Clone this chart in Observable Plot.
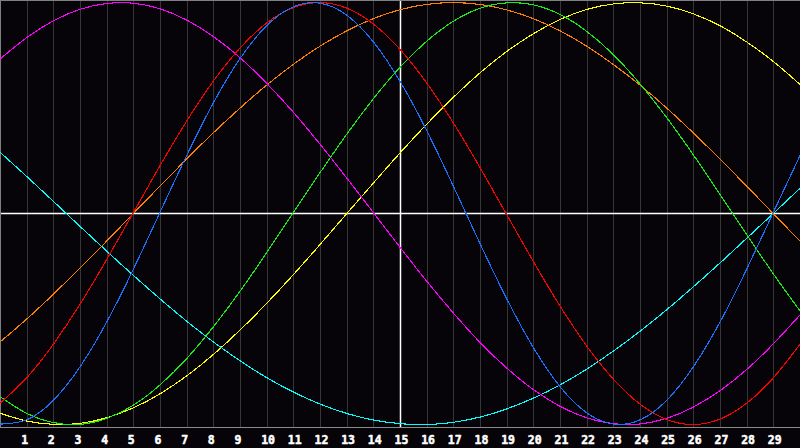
<!DOCTYPE html>
<html>
<head>
<meta charset="utf-8">
<script src="https://cdn.jsdelivr.net/npm/d3@7"></script>
<script src="https://cdn.jsdelivr.net/npm/@observablehq/plot@0.6"></script>
<style>
  html, body { margin: 0; padding: 0; background: #060408; }
  #chart { width: 800px; height: 448px; }
</style>
</head>
<body>
<div id="chart"></div>
<script>
const days = d3.range(0, 31);
const tickDays = d3.range(1, 30);
const tickLabels = tickDays.map(String);
const today = 15;

const aesthetic    = [-0.947,-0.984,-0.999,-0.994,-0.967,-0.920,-0.853,-0.768,-0.666,-0.550,-0.423,-0.287,-0.144,0.002,0.147,0.290,0.426,0.553,0.669,0.770,0.854,0.921,0.968,0.994,0.999,0.983,0.946,0.889,0.812,0.719,0.610];
const spiritual    = [0.289,0.174,0.056,-0.063,-0.180,-0.295,-0.406,-0.512,-0.610,-0.699,-0.779,-0.847,-0.904,-0.948,-0.979,-0.996,-1.000,-0.989,-0.964,-0.925,-0.874,-0.811,-0.736,-0.650,-0.556,-0.454,-0.345,-0.232,-0.115,0.003,0.122];
const awareness    = [-0.607,-0.498,-0.380,-0.256,-0.128,0.003,0.133,0.261,0.385,0.502,0.611,0.709,0.795,0.867,0.925,0.967,0.992,1.000,0.991,0.965,0.923,0.865,0.792,0.705,0.607,0.498,0.380,0.256,0.128,-0.003,-0.133];
const intuitive    = [0.734,0.836,0.915,0.969,0.996,0.997,0.970,0.916,0.838,0.737,0.615,0.478,0.326,0.166,0.002,-0.163,-0.323,-0.474,-0.613,-0.734,-0.836,-0.915,-0.969,-0.996,-0.997,-0.970,-0.916,-0.838,-0.737,-0.615,-0.478];
const intellectual = [-0.870,-0.948,-0.991,-0.999,-0.970,-0.907,-0.810,-0.685,-0.534,-0.365,-0.182,0.008,0.197,0.379,0.547,0.696,0.819,0.913,0.974,0.999,0.989,0.943,0.862,0.751,0.612,0.452,0.275,0.088,-0.103,-0.289,-0.465];
const emotional    = [-0.897,-0.776,-0.616,-0.426,-0.214,0.009,0.231,0.442,0.631,0.787,0.905,0.977,1.000,0.973,0.897,0.776,0.616,0.426,0.214,-0.009,-0.231,-0.442,-0.631,-0.787,-0.905,-0.977,-1.000,-0.973,-0.897,-0.776,-0.616];
const physical     = [-0.998,-0.977,-0.883,-0.723,-0.510,-0.259,0.011,0.280,0.529,0.738,0.893,0.981,0.997,0.939,0.811,0.623,0.389,0.125,-0.147,-0.408,-0.639,-0.823,-0.946,-0.998,-0.977,-0.883,-0.723,-0.510,-0.259,0.011,0.280];

const seriesNames  = ["Aesthetic","Spiritual","Awareness","Intuitive","Intellectual","Emotional","Physical"];
const seriesValues = [aesthetic, spiritual, awareness, intuitive, intellectual, emotional, physical];
const seriesColors = ["#ffff00","#00ffff","#ff8000","#ff00ff","#14f014","#ff0000","#1a70ff"];

const rows = seriesNames.flatMap((name, i) =>
  days.map((d, j) => ({series: name, day: d, value: seriesValues[i][j]})));

const yDomain = [-1.014, 1.01];

const chart = Plot.plot({
  width: 800,
  height: 448,
  marginLeft: 0,
  marginRight: 0,
  marginTop: 0,
  marginBottom: 21,
  style: {background: "#060408", overflow: "visible"},
  x: {domain: [0, 30], axis: null},
  y: {domain: yDomain, axis: null},
  color: {type: "ordinal", domain: seriesNames, range: seriesColors},
  marks: [
    Plot.ruleX(tickDays, {stroke: "#363636", strokeWidth: 1, shapeRendering: "crispEdges"}),
    Plot.ruleX([today], {stroke: "#ffffff", strokeWidth: 1.5}),
    Plot.ruleY([0], {stroke: "#ffffff", strokeWidth: 1.5}),
    Plot.ruleY([yDomain[1]], {stroke: "#808080", strokeWidth: 1, shapeRendering: "crispEdges"}),
    Plot.ruleY([yDomain[0]], {stroke: "#8a8a8a", strokeWidth: 1, shapeRendering: "crispEdges"}),
    Plot.ruleX([0], {stroke: "#808080", strokeWidth: 1, shapeRendering: "crispEdges"}),
    Plot.line(rows, {x: "day", y: "value", z: "series", stroke: "series", strokeWidth: 1.1, curve: "natural", shapeRendering: "crispEdges"}),
    Plot.text(tickDays, {
      x: d => d,
      text: (d, i) => tickLabels[i],
      frameAnchor: "bottom",
      lineAnchor: "bottom",
      textAnchor: "start",
      dx: -6,
      dy: 16,
      fill: "#ffffff",
      stroke: "#ffffff",
      strokeWidth: 0.5,
      fontSize: 11.5,
      fontWeight: "bold",
      fontFamily: "DejaVu Sans Mono"
    })
  ]
});
document.getElementById("chart").appendChild(chart);
</script>
</body>
</html>
